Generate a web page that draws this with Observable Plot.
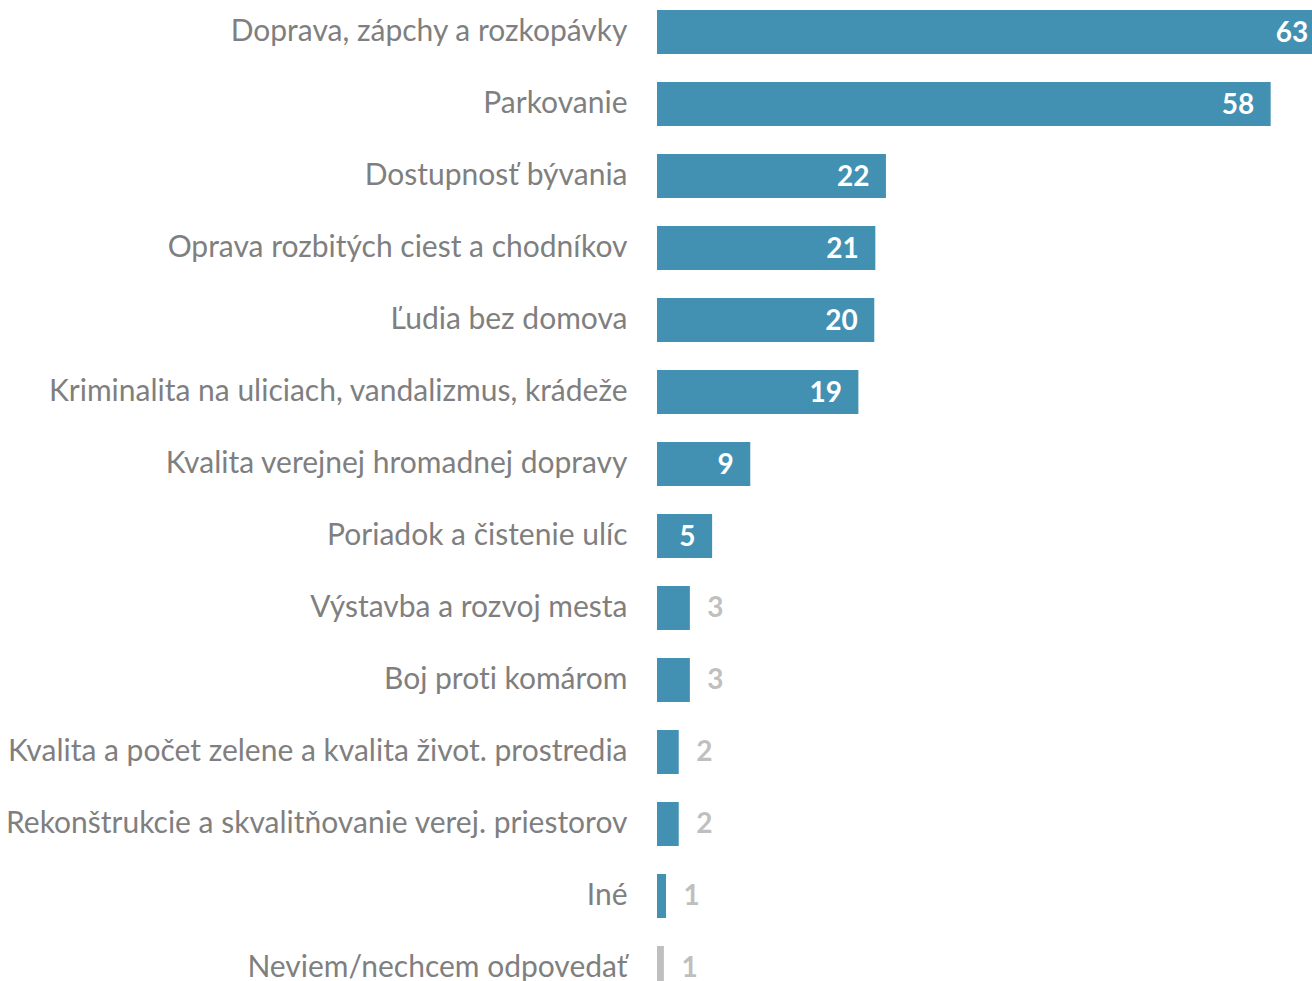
<!DOCTYPE html>
<html>
<head>
<meta charset="utf-8">
<script src="https://cdn.jsdelivr.net/npm/d3@7"></script>
<script src="https://cdn.jsdelivr.net/npm/@observablehq/plot@0.6"></script>
<style>
  html, body { margin: 0; padding: 0; background: #fff; overflow: hidden; }
  #chart svg { display: block; font-variant-ligatures: none; }
</style>
</head>
<body>
<div id="chart"></div>
<script>
const categories = [
  "Doprava, zápchy a rozkopávky",
  "Parkovanie",
  "Dostupnosť bývania",
  "Oprava rozbitých ciest a chodníkov",
  "Ľudia bez domova",
  "Kriminalita na uliciach, vandalizmus, krádeže",
  "Kvalita verejnej hromadnej dopravy",
  "Poriadok a čistenie ulíc",
  "Výstavba a rozvoj mesta",
  "Boj proti komárom",
  "Kvalita a počet zelene a kvalita život. prostredia",
  "Rekonštrukcie a skvalitňovanie verej. priestorov",
  "Iné",
  "Neviem/nechcem odpovedať"
];
const values = [63, 57.9, 21.6, 20.6, 20.5, 19.0, 8.8, 5.2, 3.1, 3.1, 2.05, 2.05, 0.85, 0.65];
const valueLabels = ["63", "58", "22", "21", "20", "19", "9", "5", "3", "3", "2", "2", "1", "1"];
const noAnswerCategory = "Neviem/nechcem odpovedať";

const data = categories.map((c, i) => ({cat: c, value: values[i], label: valueLabels[i]}));
const inside = data.filter(d => d.value >= 5);
const outside = data.filter(d => d.value < 5);

const BLUE = "#4291b3";
const GRAY = "#bfbfbf";

const chart = Plot.plot({
  width: 1312,
  height: 981,
  marginLeft: 657,
  marginRight: 0,
  marginTop: 0,
  marginBottom: 0,
  style: {fontFamily: "Lato, sans-serif", background: "#fff"},
  x: {domain: [0, 61.8], range: [657, 1312], axis: null},
  y: {domain: categories, range: [10, 990], paddingInner: 0.389, paddingOuter: 0, axis: null},
  marks: [
    Plot.barX(data, {
      y: "cat", x: "value",
      fill: d => d.cat === noAnswerCategory ? GRAY : BLUE
    }),
    Plot.text(data, {
      y: "cat", text: "cat", frameAnchor: "left", dx: -30, textAnchor: "end",
      fill: "#7f7f7f", fontSize: 30, dy: -1
    }),
    Plot.text(inside, {
      y: "cat", x: "value", text: "label", dx: -17, textAnchor: "end",
      fill: "#fff", fontSize: 28, fontWeight: "bold", dy: 1
    }),
    Plot.text(outside, {
      y: "cat", x: "value", text: "label", dx: 17, textAnchor: "start",
      fill: GRAY, fontSize: 28, fontWeight: "bold", dy: 0
    })
  ]
});
document.getElementById("chart").append(chart);
</script>
</body>
</html>
